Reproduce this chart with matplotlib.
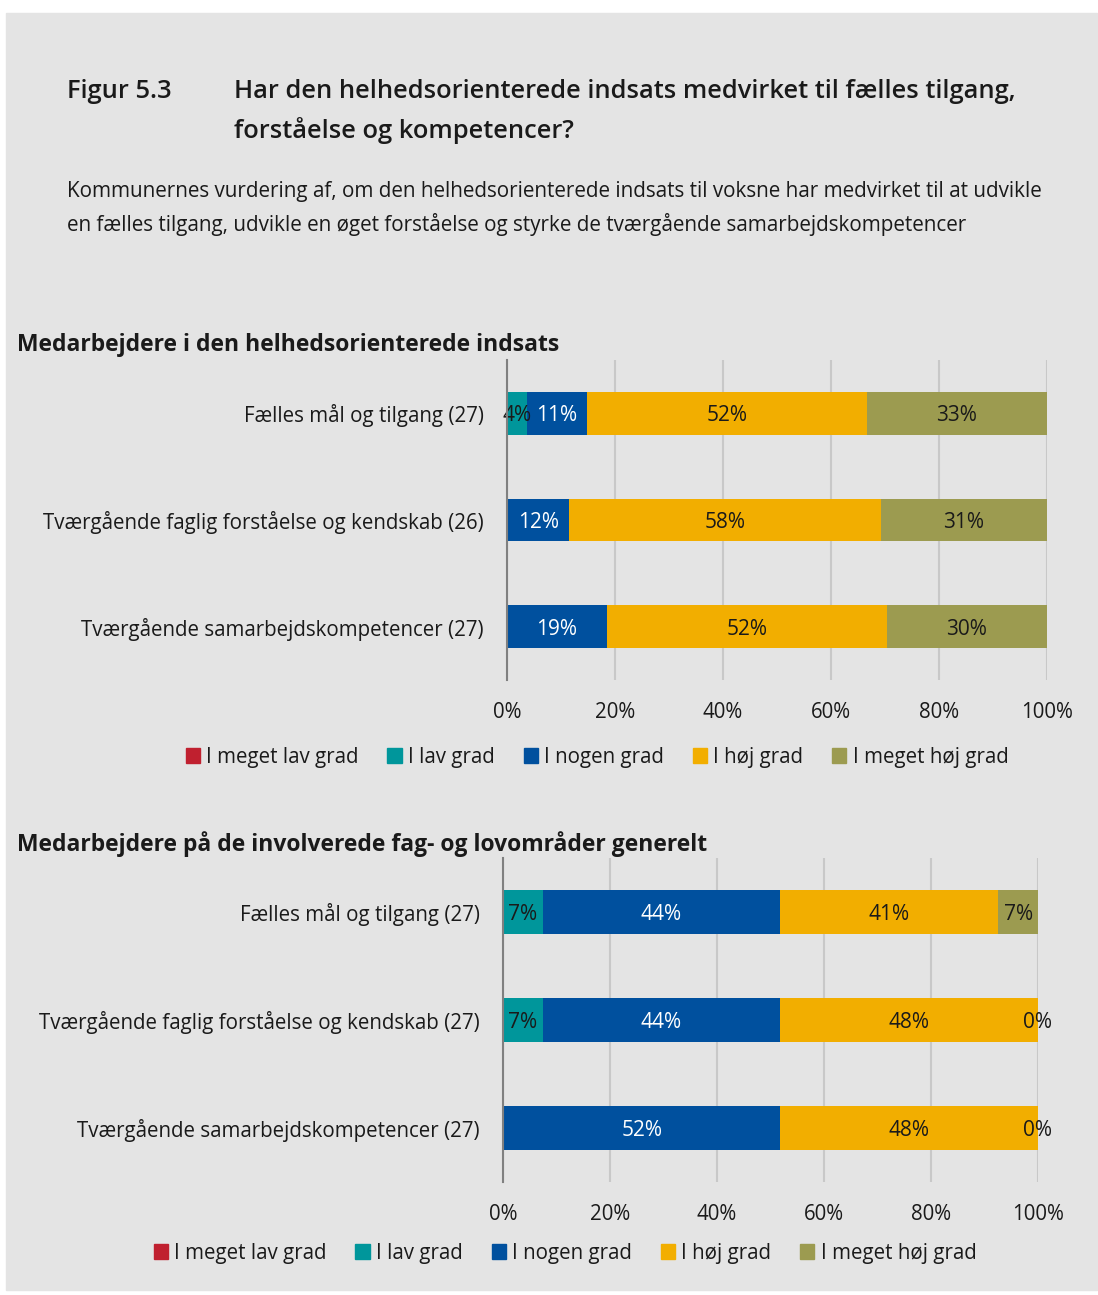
import numpy as np
import matplotlib.pyplot as plt
from matplotlib.patches import Rectangle, Patch

W, H = 1098, 1295

series = ["I meget lav grad", "I lav grad", "I nogen grad", "I høj grad", "I meget høj grad"]
colors = ["#c0202f", "#00969b", "#00509e", "#f2ae00", "#9c9b50"]
text_colors = ["white", "#1a1a1a", "white", "#1a1a1a", "#1a1a1a"]

cats1 = ["Fælles mål og tilgang (27)",
         "Tværgående faglig forståelse og kendskab (26)",
         "Tværgående samarbejdskompetencer (27)"]
vals1 = np.array([
    [0, 3.70, 11.11, 51.85, 33.33],
    [0, 0, 11.54, 57.69, 30.77],
    [0, 0, 18.52, 51.85, 29.63],
])

cats2 = ["Fælles mål og tilgang (27)",
         "Tværgående faglig forståelse og kendskab (27)",
         "Tværgående samarbejdskompetencer (27)"]
vals2 = np.array([
    [0, 7.41, 44.44, 40.74, 7.41],
    [0, 7.41, 44.44, 48.15, 0],
    [0, 0, 51.85, 48.15, 0],
])
# series whose zero values still get a label
zero_labels2 = [4]

xticks = [0, 20, 40, 60, 80, 100]

plt.rcParams['font.family'] = ['Open Sans', 'DejaVu Sans']
fig = plt.figure(figsize=(W / 100, H / 100), dpi=100)
fig.patch.set_facecolor("white")
fig.patches.append(Rectangle((6 / W, 1 - 1290 / H), (1097 - 6) / W, (1290 - 13) / H,
                             transform=fig.transFigure, color="#e4e4e4", zorder=-10))


def fx(x): return x / W
def fy(y): return 1 - y / H


dark = "#1a1a1a"
fig.text(fx(67), fy(91), "Figur 5.3", fontsize=18.4, weight="semibold", color=dark, va="center")
fig.text(fx(234), fy(91), "Har den helhedsorienterede indsats medvirket til fælles tilgang,",
         fontsize=18.4, weight="semibold", color=dark, va="center")
fig.text(fx(234), fy(131), "forståelse og kompetencer?",
         fontsize=18.4, weight="semibold", color=dark, va="center")
fig.text(fx(67), fy(192), "Kommunernes vurdering af, om den helhedsorienterede indsats til voksne har medvirket til at udvikle",
         fontsize=14.9, color=dark, va="center")
fig.text(fx(67), fy(224), "en fælles tilgang, udvikle en øget forståelse og styrke de tværgående samarbejdskompetencer",
         fontsize=14.9, color=dark, va="center")

fs = 14.8


def draw(box, cats, vals, header, header_y, legend_xy, zero_labels=()):
    x0, y0, x1, y1 = box
    ax = fig.add_axes([fx(x0), fy(y1), (x1 - x0) / W, (y1 - y0) / H])
    ax.set_facecolor("none")
    y = np.arange(len(cats))
    left = np.zeros(len(cats))
    for i, s in enumerate(series):
        v = vals[:, i]
        ax.barh(y, v, left=left, height=0.4, color=colors[i], zorder=3)
        for j in range(len(cats)):
            if v[j] > 0 or i in zero_labels:
                ax.text(left[j] + v[j] / 2, y[j], f"{v[j]:.0f}%", ha="center", va="center_baseline",
                        fontsize=15, color=text_colors[i], zorder=4)
        left += v
    ax.set_xlim(0, 100)
    ax.set_ylim(len(cats) - 0.5, -0.5)
    ax.set_yticks(y)
    ax.set_yticklabels(cats, fontsize=fs, color=dark)
    ax.set_xticks(xticks)
    ax.set_xticklabels([f"{t}%" for t in xticks], fontsize=fs, color=dark)
    ax.tick_params(length=0)
    ax.tick_params(axis="y", pad=17)
    ax.tick_params(axis="x", pad=16)
    for sp in ["top", "right", "bottom"]:
        ax.spines[sp].set_visible(False)
    ax.spines["left"].set_color("#808080")
    ax.spines["left"].set_linewidth(1.5)
    ax.spines["left"].set_zorder(5)
    ax.grid(axis="x", color="#c8c8c8", linewidth=1.5, zorder=1)
    ax.set_axisbelow(True)
    fig.text(fx(17), fy(header_y), header, fontsize=16.5, weight="bold", color=dark, va="center")
    handles = [Patch(color=c) for c in colors]
    fig.legend(handles, series, loc="center", bbox_to_anchor=(fx(legend_xy[0]), fy(legend_xy[1])),
               ncol=5, frameon=False, fontsize=fs, handlelength=0.7, handleheight=0.7,
               handletextpad=0.3, columnspacing=1.4, labelcolor=dark)
    return ax


draw((507, 360, 1047, 680), cats1, vals1, "Medarbejdere i den helhedsorienterede indsats", 345, (597, 757))
draw((503, 858, 1038, 1182), cats2, vals2, "Medarbejdere på de involverede fag- og lovområder generelt", 844,
     (565, 1253), zero_labels2)

fig.savefig("out.png", dpi=100)
